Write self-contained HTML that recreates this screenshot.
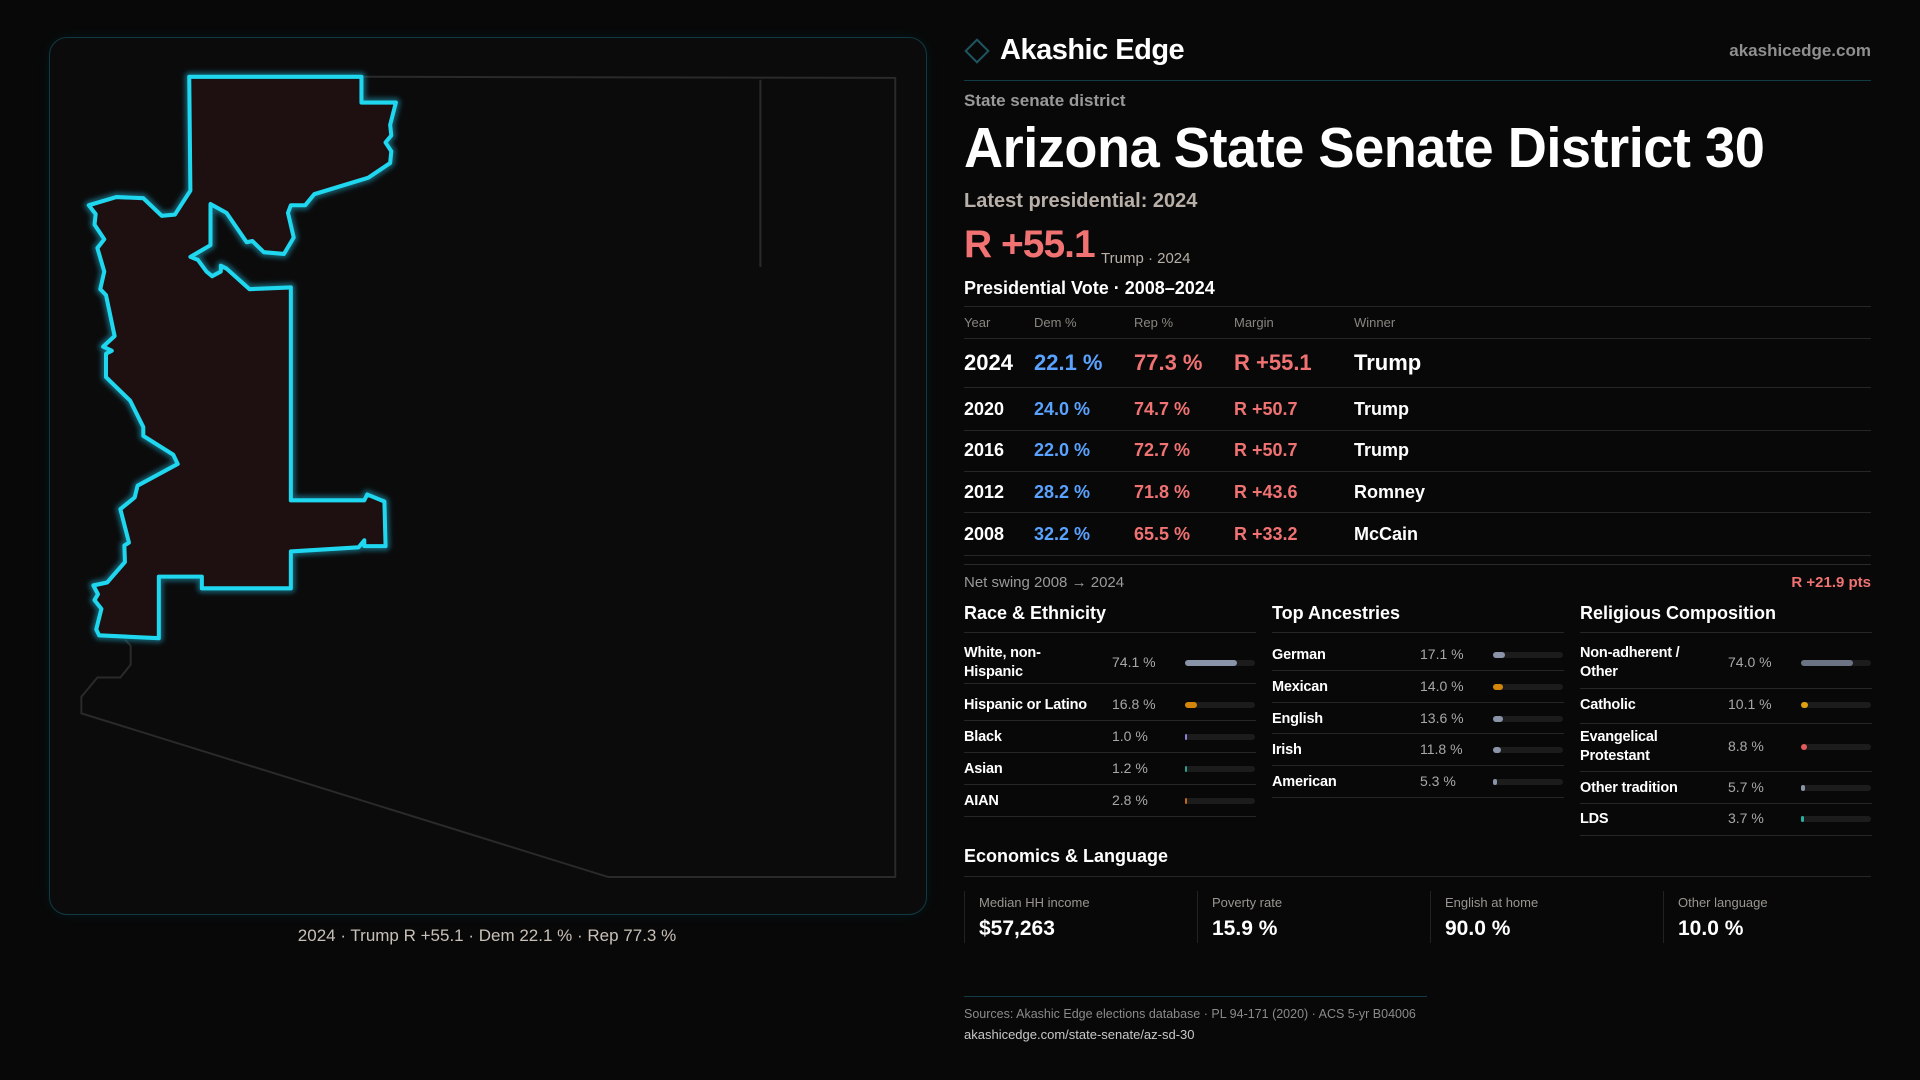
<!DOCTYPE html>
<html><head><meta charset="utf-8">
<style>
*{margin:0;padding:0;box-sizing:border-box}
body{width:1920px;height:1080px;background:#080808;font-family:"Liberation Sans",sans-serif;color:#fff;position:relative;overflow:hidden}
.t{position:absolute;white-space:nowrap}
.hl{position:absolute;height:1px;background:#262626}
.grey{color:#9a9a9a}
.red{color:#f07272}
.blue{color:#5aa2ff}
</style></head><body>
<div style="position:absolute;left:49px;top:37px;width:878px;height:878px;border:1px solid #0f3a44;border-radius:18px;background:#0b0b0c;box-shadow:0 0 12px rgba(0,180,220,0.08)"></div>
<svg style="position:absolute;left:0;top:0" width="1920" height="1080">
 <defs><filter id="glow" x="-20%" y="-20%" width="140%" height="140%"><feGaussianBlur stdDeviation="4"/></filter></defs>
 <g transform="translate(40,31) scale(0.574,0.5867)">
  <polyline fill="none" stroke="#2a2a2a" stroke-width="3.4" points="560,78 1490,80 1490,1442 990,1442 72,1163 72,1135 100,1102 140,1102 158,1080 158,1048 148,1037"/>
  <line x1="1255" y1="83" x2="1255" y2="402" stroke="#2a2a2a" stroke-width="3.4"/>
  <polygon fill="#1e1011" stroke="#1a8fa8" stroke-width="16" stroke-linejoin="round" filter="url(#glow)" opacity="0.6" points="260,78 560,78 560,122 620,122 610,160 612,178 602,190 612,205 610,225 572,250 478,278 462,297 437,297 432,310 442,352 425,380 390,377 370,358 360,360 325,310 297,295 297,365 262,385 275,390 290,410 300,418 315,410 315,400 325,405 365,440 437,437 437,800 565,800 570,790 600,802 602,878 565,878 565,868 555,880 437,887 437,950 282,950 282,930 207,930 207,1035 103,1030 98,1020 107,985 95,970 101,960 93,945 117,940 148,905 147,877 155,872 140,815 165,795 170,775 240,738 232,722 180,690 180,675 157,630 115,590 115,550 125,545 110,538 130,520 115,450 105,440 112,410 100,370 112,355 95,330 97,312 85,297 133,283 180,285 212,315 235,313 262,272"/>
  <polygon fill="#1e1011" stroke="#1fd8f0" stroke-width="7" stroke-linejoin="round" points="260,78 560,78 560,122 620,122 610,160 612,178 602,190 612,205 610,225 572,250 478,278 462,297 437,297 432,310 442,352 425,380 390,377 370,358 360,360 325,310 297,295 297,365 262,385 275,390 290,410 300,418 315,410 315,400 325,405 365,440 437,437 437,800 565,800 570,790 600,802 602,878 565,878 565,868 555,880 437,887 437,950 282,950 282,930 207,930 207,1035 103,1030 98,1020 107,985 95,970 101,960 93,945 117,940 148,905 147,877 155,872 140,815 165,795 170,775 240,738 232,722 180,690 180,675 157,630 115,590 115,550 125,545 110,538 130,520 115,450 105,440 112,410 100,370 112,355 95,330 97,312 85,297 133,283 180,285 212,315 235,313 262,272"/>
 </g>
</svg>
<div class="t" style="left:188px;width:598px;text-align:center;top:926px;font-size:17px;color:#c8c0b8">2024 · Trump R +55.1 · Dem 22.1 % · Rep 77.3 %</div>

<div style="position:absolute;left:968px;top:42px;width:18px;height:18px;border:2px solid #1e5560;transform:rotate(45deg)"></div>
<div class="t" style="left:1000px;top:34px;font-size:29px;font-weight:bold;letter-spacing:-0.5px">Akashic Edge</div>
<div class="t grey" style="right:49px;top:41px;font-size:17px;font-weight:bold;color:#8f8f8f">akashicedge.com</div>
<div class="hl" style="left:964px;width:907px;top:80px;background:#123c45"></div>
<div class="t grey" style="left:964px;top:91px;font-size:17px;font-weight:bold;color:#999">State senate district</div>
<div class="t" style="left:964px;top:115px;font-size:57px;font-weight:bold;transform:scaleX(0.95);transform-origin:left;letter-spacing:-0.5px">Arizona State Senate District 30</div>
<div class="t" style="left:964px;top:190px;font-size:20px;font-weight:bold;color:#b8b0a8">Latest presidential: 2024</div>
<div class="t red" style="left:964px;top:223px;font-size:39px;font-weight:bold;letter-spacing:-1px">R +55.1</div>
<div class="t" style="left:1101px;top:250px;font-size:15px;color:#b8b0a8">Trump · 2024</div>
<div class="t" style="left:964px;top:278px;font-size:18px;font-weight:bold">Presidential Vote · 2008–2024</div>
<div class="hl" style="left:964px;width:907px;top:306px"></div>
<div id="tbl"></div>
<div class="hl" style="left:964px;width:907px;top:564px;background:#2a2a2a"></div>
<div class="t grey" style="left:964px;top:574px;font-size:15px;color:#9a9a9a">Net swing 2008 → 2024</div>
<div class="t red" style="right:49px;top:574px;font-size:15px;font-weight:bold">R +21.9 pts</div>
<div id="demo"></div>
<div class="t" style="left:964px;top:846px;font-size:18px;font-weight:bold">Economics &amp; Language</div>
<div class="hl" style="left:964px;width:907px;top:876px"></div>
<div id="econ"></div>
<div class="hl" style="left:964px;width:463px;top:996px;background:#123c45"></div>
<div class="t" style="left:964px;top:1007px;font-size:12.5px;color:#8a8a8a">Sources: Akashic Edge elections database · PL 94-171 (2020) · ACS 5-yr B04006</div>
<div class="t" style="left:964px;top:1027px;font-size:13px;color:#c8c8c8">akashicedge.com/state-senate/az-sd-30</div>

<script>
const years=["2024","2020","2016","2012","2008"];
const demPct=[22.1,24.0,22.0,28.2,32.2];
const repPct=[77.3,74.7,72.7,71.8,65.5];
const margins=[55.1,50.7,50.7,43.6,33.2];
const winners=["Trump","Trump","Trump","Romney","McCain"];
const raceLabels=["White, non-Hispanic","Hispanic or Latino","Black","Asian","AIAN"];
const raceValues=[74.1,16.8,1.0,1.2,2.8];
const ancLabels=["German","Mexican","English","Irish","American"];
const ancValues=[17.1,14.0,13.6,11.8,5.3];
const relLabels=["Non-adherent / Other","Catholic","Evangelical Protestant","Other tradition","LDS"];
const relValues=[74.0,10.1,8.8,5.7,3.7];
const econLabels=["Median HH income","Poverty rate","English at home","Other language"];
const econValues=["$57,263","15.9 %","90.0 %","10.0 %"];

function mk(parent,cls,style,text){const d=document.createElement('div');d.className=cls;d.style.cssText=style;if(text!==undefined)d.textContent=text;parent.appendChild(d);return d;}
const colX=[964,1034,1134,1234,1354];
const tbl=document.getElementById('tbl');
const hdr=["Year","Dem %","Rep %","Margin","Winner"];
hdr.forEach((h,i)=>{const e=mk(tbl,'t','left:'+colX[i]+'px;top:315px;font-size:13px;color:#8a8580',h);

});
const hl=mk(tbl,'hl','left:964px;width:907px;top:338px');


const rowCy=[363,410,451,493,535],rowLine=[387,430,471,512,555];
years.forEach((y,i)=>{
 const fs=i===0?22:18;const top=rowCy[i]-fs*0.6;
 const vals=[y,demPct[i].toFixed(1)+' %',repPct[i].toFixed(1)+' %','R +'+margins[i].toFixed(1),winners[i]];
 const cols=['#fff','#5aa2ff','#f07272','#f07272','#fff'];
 vals.forEach((v,j)=>{const e=mk(tbl,'t','left:'+colX[j]+'px;top:'+top+'px;font-size:'+fs+'px;font-weight:bold;color:'+cols[j],v);
 
 });
 const l=mk(tbl,'hl','left:964px;width:907px;top:'+rowLine[i]+'px');
 
 
});
const demo=document.getElementById('demo');
function section(x,title,labels,values,colors,cys,lines){
 const h=mk(demo,'t','left:'+x+'px;top:603px;font-size:18px;font-weight:bold',title);
 
 
 const r=mk(demo,'hl','left:'+x+'px;width:292px;top:632px');
 
 
 labels.forEach((lab,i)=>{
  const cy=cys[i]+1;const two=lab.length>18;
  const txt=two?lab.replace(/(non-|\/ |Evangelical )/,'$1\n'):lab;
  const L=mk(demo,'t','left:'+x+'px;top:'+(cy-(two?19:9))+'px;font-size:14.5px;font-weight:bold;line-height:19px;white-space:pre;letter-spacing:-0.2px',txt);
  
  
  const V=mk(demo,'t','left:'+(x+148)+'px;top:'+(cy-9)+'px;font-size:14px;color:#a8a8a8',values[i].toFixed(1)+' %');
  
  
  const tr=mk(demo,'','position:absolute;left:'+(x+221)+'px;top:'+(cy-3)+'px;width:70px;height:6px;border-radius:3px;background:#1c1c1c');
  
  
  const w=Math.max(2,70*values[i]/100);
  const b=mk(demo,'','position:absolute;left:'+(x+221)+'px;top:'+(cy-3)+'px;width:'+w+'px;height:6px;border-radius:3px;background:'+colors[i]);
  
  
  const l=mk(demo,'hl','left:'+x+'px;width:292px;top:'+lines[i]+'px');
  
  
 });
}
section(964,"Race & Ethnicity",raceLabels,raceValues,["#8a94a8","#d4860b","#8b7fd8","#2a9d8f","#c06a1a"],[662,704,736,768,800],[683,720,752,784,816]);
section(1272,"Top Ancestries",ancLabels,ancValues,["#8a94a8","#d4860b","#8a94a8","#8a94a8","#8a94a8"],[654,686,718,749,781],[670,702,733,765,797]);
section(1580,"Religious Composition",relLabels,relValues,["#6b7384","#e0a010","#e05a5a","#8a94a8","#2ab0a0"],[662,704,746,787,818],[688,723,771,803,835]);
const econ=document.getElementById('econ');
econLabels.forEach((l,i)=>{
 const x=964+i*233;
 const c=mk(econ,'','position:absolute;left:'+x+'px;top:891px;width:1px;height:52px;background:#222');
 
 
 const a=mk(econ,'t','left:'+(x+15)+'px;top:895px;font-size:13px;color:#9a9590',l);
 
 
 const b=mk(econ,'t','left:'+(x+15)+'px;top:917px;font-size:21px;font-weight:bold',econValues[i]);
 
 
});
</script>
</body></html>
